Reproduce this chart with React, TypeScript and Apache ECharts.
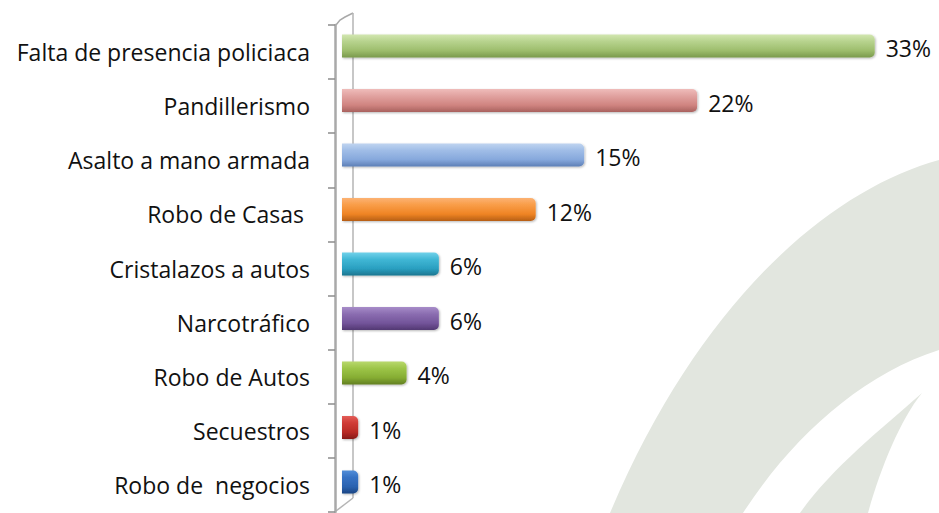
import React, { useEffect, useRef } from 'react';
import * as echarts from 'echarts';

const categories = [
  'Falta de presencia policiaca',
  'Pandillerismo',
  'Asalto a mano armada',
  'Robo de Casas ',
  'Cristalazos a autos',
  'Narcotráfico',
  'Robo de Autos',
  'Secuestros',
  'Robo de  negocios',
];
const values = [33, 22, 15, 12, 6, 6, 4, 1, 1];
const barColors = [
  ['#d2e6b0', '#b7d38e', '#9dbd6c', '#7a9a4c'],
  ['#efbcba', '#e1a2a0', '#d08480', '#a9625f'],
  ['#bfd4f0', '#a0bde7', '#86a8dc', '#5d7fb6'],
  ['#fcb273', '#f99d48', '#ef8424', '#b65e14'],
  ['#70d1ea', '#41b7d5', '#2a9fc0', '#1c7690'],
  ['#a78cc9', '#8b6db1', '#73549a', '#523872'],
  ['#b8d86c', '#9dc548', '#86ad33', '#627f22'],
  ['#e35d58', '#d03b35', '#b82a25', '#861a17'],
  ['#508dd8', '#3672c4', '#2a62b0', '#1b4584'],
];
const axisMax = 35;

const FONT = '"Open Sans", "Noto Sans", sans-serif';

export default function App() {
  const ref = useRef<HTMLDivElement>(null);
  useEffect(() => {
    document.body.style.margin = '0';
    echarts.graphic.registerShape(
      'swooshA',
      echarts.graphic.extendPath('M939,160 C830,190 700,300 610,513 L743,513 C790,440 860,375 939,350 Z', {})
    );
    echarts.graphic.registerShape(
      'swooshB',
      echarts.graphic.extendPath('M922,393 C880,430 830,470 800,513 L868,513 C880,470 900,420 922,393 Z', {})
    );
    const chart = echarts.init(ref.current!, null, { renderer: 'svg' });
    const wall = '#a9a9a9';
    chart.setOption({
      animation: false,
      backgroundColor: '#ffffff',
      graphic: [
        { type: 'swooshA', x: 0, y: 0, silent: true, z: -5, style: { fill: '#e2e6df' } },
        { type: 'swooshB', x: 0, y: 0, silent: true, z: -5, style: { fill: '#e2e6df' } },
        {
          type: 'polyline',
          silent: true,
          shape: { points: [[336, 25], [340, 20], [345, 17], [350, 14.5], [353, 13]] },
          style: { stroke: wall, lineWidth: 1.5, fill: null },
        },
        {
          type: 'line',
          silent: true,
          shape: { x1: 353, y1: 13, x2: 353, y2: 498 },
          style: { stroke: '#b5b5b5', lineWidth: 1.5 },
        },
        {
          type: 'line',
          silent: true,
          shape: { x1: 336, y1: 511, x2: 353, y2: 498 },
          style: { stroke: '#b5b5b5', lineWidth: 1.5 },
        },
      ],
      grid: [
        { left: 342, right: 32, top: 18.75, bottom: 3.75 },
        { left: 335, right: 32, top: 25, bottom: 1 },
      ],
      xAxis: [
        { type: 'value', gridIndex: 0, min: 0, max: axisMax, show: false },
        { type: 'value', gridIndex: 1, min: 0, max: axisMax, show: false },
      ],
      yAxis: [
        {
          type: 'category',
          gridIndex: 0,
          data: categories,
          inverse: true,
          show: false,
        },
        {
          type: 'category',
          gridIndex: 1,
          data: categories,
          inverse: true,
          axisLine: { show: true, lineStyle: { color: wall, width: 2.5 } },
          axisTick: { show: true, length: 7, lineStyle: { color: '#8c8c8c', width: 1.5 } },
          axisLabel: {
            margin: 25,
            color: '#111111',
            fontFamily: FONT,
            fontSize: 23,
          },
          splitLine: { show: false },
        },
      ],
      series: [
        {
          type: 'bar',
          xAxisIndex: 0,
          yAxisIndex: 0,
          barWidth: 23,
          data: values.map((v, i) => ({
            value: v,
            itemStyle: {
              color: new echarts.graphic.LinearGradient(0, 0, 0, 1, [
                { offset: 0, color: barColors[i][0] },
                { offset: 0.3, color: barColors[i][1] },
                { offset: 0.7, color: barColors[i][2] },
                { offset: 1, color: barColors[i][3] },
              ]),
              borderRadius: [0, 5, 5, 0],
              shadowColor: 'rgba(0,0,0,0.28)',
              shadowBlur: 2,
              shadowOffsetX: 1,
              shadowOffsetY: 1,
            },
          })),
          label: {
            show: true,
            position: 'right',
            distance: 11,
            formatter: '{c}%',
            color: '#111111',
            fontFamily: FONT,
            fontSize: 23,
            offset: [0, 2],
          },
        },
      ],
    });
    return () => chart.dispose();
  }, []);
  return <div ref={ref} style={{ width: 939, height: 513 }} />;
}
